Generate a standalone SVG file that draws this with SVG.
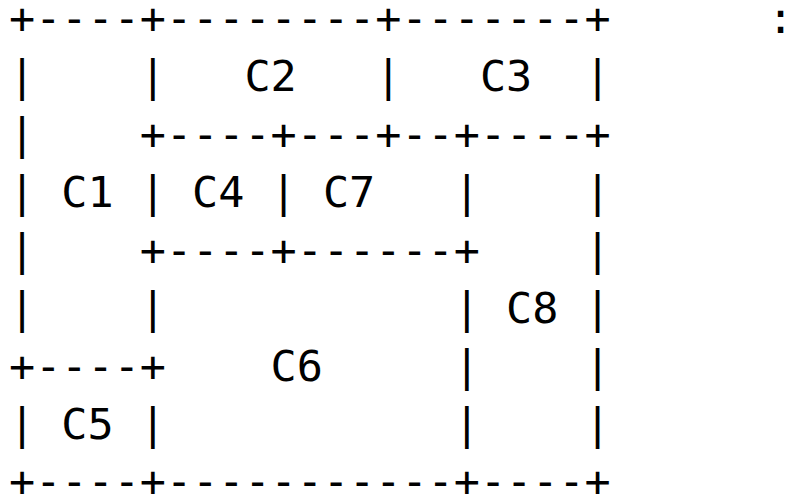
<svg xmlns="http://www.w3.org/2000/svg" width="794" height="496" viewBox="0 0 794 496">
<style>
text{font-family:"DejaVu Sans Mono","Liberation Mono",monospace;font-size:43.46px;fill:#000;white-space:pre}
</style>
<rect width="794" height="496" fill="#fff"/>
<g id="grid" xml:space="preserve">
<text x="9" y="33">+----+--------+-------+</text>
<text x="767.6" y="33">:</text>
<text x="9" y="91">|    |</text>
<text x="375.2" y="91">|</text>
<text x="584.5" y="91">|</text>
<text x="9" y="149">|    +----+---+--+----+</text>
<text x="9" y="207">|</text>
<text x="139.8" y="207">|</text>
<text x="270.6" y="207">|</text>
<text x="453.7" y="207">|</text>
<text x="584.5" y="207">|</text>
<text x="9" y="265">|    +----+------+    |</text>
<text x="9" y="323">|    |</text>
<text x="453.7" y="323">|</text>
<text x="584.5" y="323">|</text>
<text x="9" y="381">+----+</text>
<text x="453.7" y="381">|    |</text>
<text x="9" y="439">|</text>
<text x="139.8" y="439">|</text>
<text x="453.7" y="439">|    |</text>
<text x="9" y="496">+----+-----------+----+</text>
</g>
<g id="C1"><text x="61.3" y="207">C1</text></g>
<g id="C2"><text x="244.4" y="91">C2</text></g>
<g id="C3"><text x="479.9" y="91">C3</text></g>
<g id="C4"><text x="192.1" y="207">C4</text></g>
<g id="C5"><text x="61.3" y="439">C5</text></g>
<g id="C6"><text x="270.6" y="381">C6</text></g>
<g id="C7"><text x="322.9" y="207">C7</text></g>
<g id="C8"><text x="506" y="323">C8</text></g>
</svg>
